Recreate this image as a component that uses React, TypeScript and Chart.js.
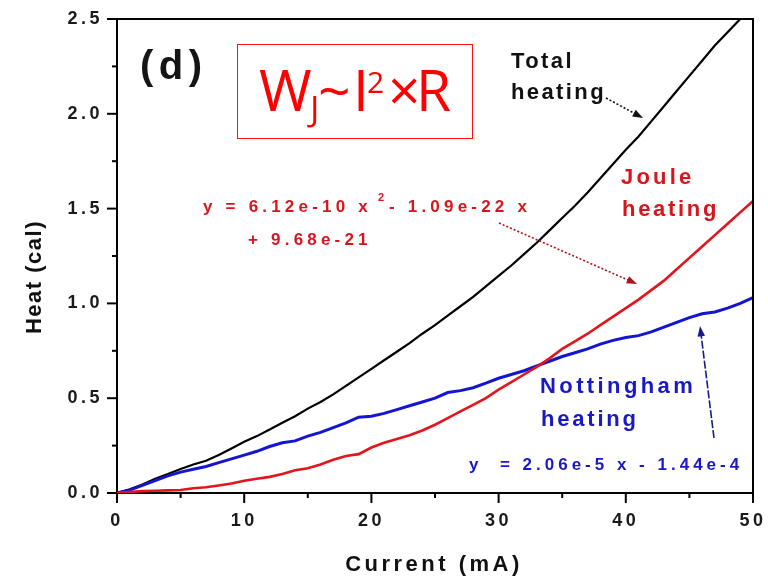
import React, { useEffect, useRef } from "react";
import { Chart, registerables } from "chart.js";

Chart.register(...registerables);

// Current (mA)
const current = [
  0, 1, 2, 3, 4, 5, 6, 7, 8, 9, 10, 11, 12, 13, 14, 15, 16, 17, 18, 19, 20,
  21, 22, 23, 24, 25, 26, 27, 28, 29, 30, 31, 32, 33, 34, 35, 36, 37, 38, 39, 40,
  41, 42, 43, 44, 45, 46, 47, 48, 49, 50,
];

// Heat (cal)
const totalHeat = [
  0, 0.02, 0.045, 0.075, 0.1, 0.127, 0.15, 0.17, 0.2, 0.235, 0.27,
  0.3, 0.335, 0.37, 0.405, 0.445, 0.48, 0.52, 0.565, 0.61, 0.655,
  0.7, 0.745, 0.79, 0.84, 0.885, 0.935, 0.985, 1.035, 1.09, 1.145,
  1.2, 1.26, 1.32, 1.385, 1.45, 1.515, 1.585, 1.66, 1.735, 1.81,
  1.88, 1.96, 2.04, 2.12, 2.2, 2.28, 2.36, 2.43, 2.5, 2.57,
];

const jouleHeat = [
  0, 0.005, 0.01, 0.012, 0.014, 0.016, 0.025, 0.03, 0.04, 0.05, 0.065,
  0.075, 0.085, 0.1, 0.12, 0.13, 0.15, 0.175, 0.195, 0.205, 0.24,
  0.265, 0.285, 0.305, 0.33, 0.36, 0.395, 0.43, 0.465, 0.5, 0.545,
  0.585, 0.625, 0.665, 0.71, 0.76, 0.8, 0.84, 0.885, 0.93, 0.975,
  1.02, 1.07, 1.12, 1.18, 1.24, 1.3, 1.36, 1.42, 1.48, 1.54,
];

const nottinghamHeat = [
  0, 0.015, 0.04, 0.065, 0.09, 0.11, 0.125, 0.14, 0.16, 0.18, 0.2,
  0.22, 0.245, 0.265, 0.275, 0.3, 0.32, 0.345, 0.37, 0.4, 0.405,
  0.42, 0.44, 0.46, 0.48, 0.5, 0.53, 0.54, 0.555, 0.58, 0.605,
  0.625, 0.645, 0.67, 0.695, 0.72, 0.74, 0.76, 0.785, 0.805, 0.82,
  0.83, 0.85, 0.875, 0.9, 0.925, 0.945, 0.955, 0.975, 1.0, 1.03,
];

const xMajorTicks = [0, 10, 20, 30, 40, 50];
const yMajorTicks = [0, 0.5, 1.0, 1.5, 2.0, 2.5];

const FONT = "'Liberation Sans', Arial, sans-serif";
const RED = "#e3141c";
const BLUE = "#1414d4";

function isMajor(v: number, majors: number[]) {
  return majors.some((m) => Math.abs(m - v) < 1e-6);
}

function txt(
  ctx: CanvasRenderingContext2D,
  s: string,
  x: number,
  y: number,
  font: string,
  color: string,
  spacing = 0,
  align: CanvasTextAlign = "left"
) {
  ctx.save();
  ctx.font = font;
  ctx.fillStyle = color;
  (ctx as any).letterSpacing = spacing + "px";
  ctx.textAlign = align;
  ctx.textBaseline = "alphabetic";
  ctx.fillText(s, x, y);
  const w = ctx.measureText(s).width;
  ctx.restore();
  return w;
}

function arrow(
  ctx: CanvasRenderingContext2D,
  x1: number,
  y1: number,
  x2: number,
  y2: number,
  color: string,
  dash: number[]
) {
  const ang = Math.atan2(y2 - y1, x2 - x1);
  const head = 11;
  ctx.save();
  ctx.strokeStyle = color;
  ctx.fillStyle = color;
  ctx.lineWidth = 1.6;
  ctx.setLineDash(dash);
  ctx.beginPath();
  ctx.moveTo(x1, y1);
  ctx.lineTo(x2 - Math.cos(ang) * head * 0.6, y2 - Math.sin(ang) * head * 0.6);
  ctx.stroke();
  ctx.setLineDash([]);
  ctx.beginPath();
  ctx.moveTo(x2, y2);
  ctx.lineTo(x2 - head * Math.cos(ang - 0.35), y2 - head * Math.sin(ang - 0.35));
  ctx.lineTo(x2 - head * Math.cos(ang + 0.35), y2 - head * Math.sin(ang + 0.35));
  ctx.closePath();
  ctx.fill();
  ctx.restore();
}

const decorPlugin = {
  id: "decor",
  beforeDraw(chart: any) {
    (chart.ctx as any).letterSpacing = "3.5px";
  },
  afterDraw(chart: any) {
    const ctx: CanvasRenderingContext2D = chart.ctx;
    const { left, right, top, bottom } = chart.chartArea;
    const xs = chart.scales.x;
    const ys = chart.scales.y;
    (ctx as any).letterSpacing = "0px";

    // frame top/right
    ctx.save();
    ctx.strokeStyle = "#000";
    ctx.lineWidth = 2;
    ctx.beginPath();
    ctx.moveTo(left, top);
    ctx.lineTo(right, top);
    ctx.lineTo(right, bottom);
    ctx.stroke();

    // tick marks (outward)
    ctx.lineWidth = 2;
    xs.ticks.forEach((t: any) => {
      const px = xs.getPixelForValue(t.value);
      const len = isMajor(t.value, xMajorTicks) ? 10 : 5;
      ctx.beginPath();
      ctx.moveTo(px, bottom);
      ctx.lineTo(px, bottom + len);
      ctx.stroke();
    });
    ys.ticks.forEach((t: any) => {
      const py = ys.getPixelForValue(t.value);
      const len = isMajor(t.value, yMajorTicks) ? 10 : 5;
      ctx.beginPath();
      ctx.moveTo(left - len, py);
      ctx.lineTo(left, py);
      ctx.stroke();
    });
    ctx.restore();

    // axis titles
    txt(ctx, "Current (mA)", 434, 571, `bold 22px ${FONT}`, "#111", 3.5, "center");
    ctx.save();
    ctx.translate(41, 277);
    ctx.rotate(-Math.PI / 2);
    txt(ctx, "Heat (cal)", 0, 0, `bold 22px ${FONT}`, "#111", 1.5, "center");
    ctx.restore();

    // (d)
    txt(ctx, "(d)", 140, 79, `bold 40px ${FONT}`, "#151515", 5.5);

    // red box with formula
    ctx.save();
    ctx.strokeStyle = "#ff1010";
    ctx.lineWidth = 1;
    ctx.strokeRect(237.5, 44.5, 235, 94);
    ctx.restore();
    const OS = "'Open Sans', 'Noto Sans', sans-serif";
    txt(ctx, "W", 259, 111, `57px ${OS}`, "#ff0000");
    txt(ctx, "J", 310, 121, `35px ${OS}`, "#ff0000");
    txt(ctx, "~", 318, 111, `57px ${OS}`, "#ff0000");
    txt(ctx, "I", 353, 111, `57px ${OS}`, "#ff0000");
    txt(ctx, "2", 367, 93, `30px ${OS}`, "#ff0000");
    txt(ctx, "\u00d7", 388, 111, `57px ${OS}`, "#ff0000");
    txt(ctx, "R", 416, 111, `57px ${OS}`, "#ff0000");

    // Total heating
    txt(ctx, "Total", 511, 68, `bold 22px ${FONT}`, "#111", 2.4);
    txt(ctx, "heating", 511, 99, `bold 22px ${FONT}`, "#111", 2.4);
    arrow(ctx, 606, 98, 643, 118, "#111", [2, 2]);

    // Joule heating
    txt(ctx, "Joule", 621, 184, `bold 22px ${FONT}`, "#d8141c", 3.2);
    txt(ctx, "heating", 622, 216, `bold 22px ${FONT}`, "#d8141c", 2.7);
    const eqF = `bold 17px ${FONT}`;
    txt(ctx, "y = 6.12e-10 x", 203, 212, eqF, "#d8141c", 4.2);
    txt(ctx, "2", 378, 201, `bold 11px ${FONT}`, "#d8141c");
    txt(ctx, "- 1.09e-22 x", 389, 212, eqF, "#d8141c", 4.2);
    txt(ctx, "+ 9.68e-21", 248, 245, eqF, "#d8141c", 4.2);
    arrow(ctx, 499, 223, 637, 284, "#b0101c", [2, 2]);

    // Nottingham heating
    txt(ctx, "Nottingham", 540, 393, `bold 22px ${FONT}`, "#1818c8", 3.4);
    txt(ctx, "heating", 541, 426, `bold 22px ${FONT}`, "#1818c8", 2.8);
    txt(ctx, "y  = 2.06e-5 x - 1.44e-4", 469, 470, eqF, "#1818c8", 4.0);
    arrow(ctx, 714, 438, 700, 326, "#1a1a8a", [8, 2]);
  },
};

export default function App() {
  const ref = useRef<HTMLCanvasElement | null>(null);

  useEffect(() => {
    if (!ref.current) return;
    const toPts = (arr: number[]) => current.map((x, i) => ({ x, y: arr[i] }));
    const chart = new Chart(ref.current, {
      type: "line",
      data: {
        datasets: [
          {
            label: "Joule heating",
            data: toPts(jouleHeat),
            borderColor: RED,
            borderWidth: 2.6,
            pointRadius: 0,
            tension: 0,
          },
          {
            label: "Nottingham heating",
            data: toPts(nottinghamHeat),
            borderColor: BLUE,
            borderWidth: 3,
            pointRadius: 0,
            tension: 0,
          },
          {
            label: "Total heating",
            data: toPts(totalHeat),
            borderColor: "#000",
            borderWidth: 2.2,
            pointRadius: 0,
            tension: 0,
          },
        ],
      },
      options: {
        responsive: false,
        animation: false,
        devicePixelRatio: 1,
        layout: { padding: { left: 0, top: 19, right: 15, bottom: 0 } },
        plugins: { legend: { display: false }, tooltip: { enabled: false } },
        scales: {
          x: {
            type: "linear",
            min: 0,
            max: 50,
            afterFit: (s: any) => {
              s.height = 89;
              s.paddingLeft = 0;
              s.paddingRight = 0;
            },
            ticks: {
              stepSize: 5,
              autoSkip: false,
              maxRotation: 0,
              padding: 17,
              color: "#1a1a1a",
              font: { family: FONT, size: 18, weight: "bold" },
              callback: (v: any) => (isMajor(Number(v), xMajorTicks) ? String(v) : ""),
            },
            grid: { display: true, drawOnChartArea: false, drawTicks: false },
            border: { display: true, color: "#000", width: 2 },
          },
          y: {
            type: "linear",
            min: 0,
            max: 2.5,
            afterFit: (s: any) => {
              s.width = 117;
              s.paddingTop = 0;
              s.paddingBottom = 0;
            },
            ticks: {
              stepSize: 0.25,
              autoSkip: false,
              padding: 14,
              color: "#1a1a1a",
              font: { family: FONT, size: 18, weight: "bold" },
              callback: (v: any) =>
                isMajor(Number(v), yMajorTicks) ? Number(v).toFixed(1) : "",
            },
            grid: { display: true, drawOnChartArea: false, drawTicks: false },
            border: { display: true, color: "#000", width: 2 },
          },
        },
      },
      plugins: [decorPlugin],
    });
    return () => chart.destroy();
  }, []);

  return (
    <div style={{ position: "fixed", left: 0, top: 0, width: 768, height: 582, background: "#fff" }}>
      <canvas ref={ref} width={768} height={582} style={{ display: "block" }} />
    </div>
  );
}
